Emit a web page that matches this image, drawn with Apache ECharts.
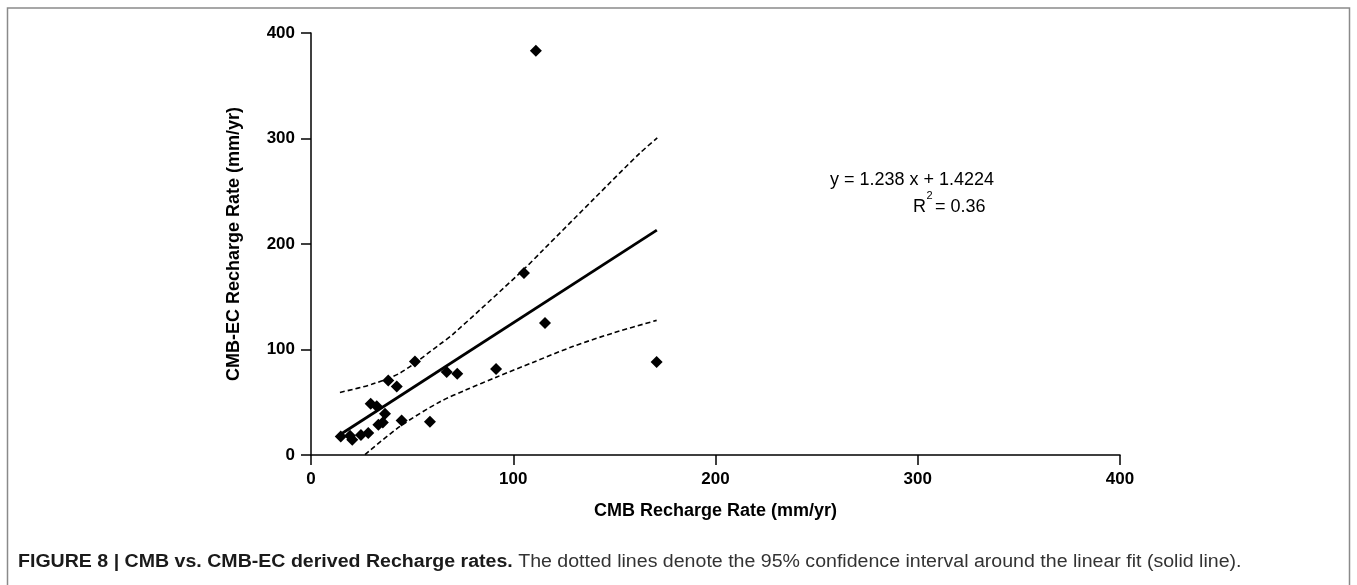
<!DOCTYPE html>
<html>
<head>
<meta charset="utf-8">
<script src="https://cdn.jsdelivr.net/npm/echarts@6/dist/echarts.min.js"></script>
<style>
html,body{margin:0;padding:0;background:#fff;}
#c{width:1357px;height:585px;}
</style>
</head>
<body>
<div id="c"></div>
<script>
// CMB (x) vs CMB-EC (y) recharge rates, mm/yr
const cmb   = [14.7, 19.3, 20.4, 24.7, 28.3, 29.5, 32.5, 33.3, 35.5, 36.6, 38.2, 42.4, 44.8, 51.4, 58.8, 67.1, 72.3, 91.5, 105.3, 111.2, 115.7, 170.9];
const cmbEC = [17.6, 18.3, 14.5, 19.0, 20.9, 48.6, 46.1, 28.7, 30.9, 39.1, 70.7, 65.0, 32.8, 88.7, 31.6, 78.7, 77.1, 81.5, 172.5, 383.2, 125.1, 88.2];

// linear fit endpoints (solid)
const fitX = [14.5, 171];
const fitY = [19.4, 213.1];

// 95% confidence band (dotted)
const upperX = [14.3, 30, 44, 63.8, 70.4, 105, 114.9, 140, 162.7, 171.2];
const upperY = [59.3, 67, 77.7, 105, 114.8, 175.6, 194.6, 243, 286.3, 300.5];
const lowerX = [26.7, 44, 63.8, 77, 91.9, 110, 129.7, 150, 170.9];
const lowerY = [0.3, 27.1, 50.5, 62, 74, 88, 103, 116, 127.6];

const ticks = [0, 100, 200, 300, 400];

const zip = (a, b) => a.map((v, i) => [v, b[i]]);
const FONT = 'Liberation Sans, Arial, sans-serif';

const chart = echarts.init(document.getElementById('c'));
const axisCommon = {
  type: 'value',
  min: ticks[0],
  max: ticks[ticks.length - 1],
  interval: 100,
  splitLine: {show: false},
  axisLine: {show: true, onZero: false, lineStyle: {color: '#000', width: 1.5}},
  axisTick: {show: true, inside: false, length: 10, lineStyle: {color: '#000', width: 1.5}},
  axisLabel: {color: '#000', fontWeight: 'bold', fontSize: 17, fontFamily: FONT},
  nameLocation: 'middle',
  nameTextStyle: {color: '#000', fontWeight: 'bold', fontSize: 18, fontFamily: FONT}
};

chart.setOption({
  animation: false,
  backgroundColor: '#fff',
  grid: {left: 311, right: 237, top: 33, bottom: 130, containLabel: false},
  xAxis: Object.assign({}, axisCommon, {
    name: 'CMB Recharge Rate (mm/yr)',
    nameGap: 47,
    axisLabel: Object.assign({}, axisCommon.axisLabel, {margin: 16})
  }),
  yAxis: Object.assign({}, axisCommon, {
    name: 'CMB-EC Recharge Rate (mm/yr)',
    nameGap: 68,
    axisLabel: Object.assign({}, axisCommon.axisLabel, {margin: 16})
  }),
  series: [
    {
      type: 'line', data: zip(upperX, upperY), smooth: 0.3, symbol: 'none',
      lineStyle: {color: '#000', width: 1.6, type: [5, 3]}, z: 2
    },
    {
      type: 'line', data: zip(lowerX, lowerY), smooth: 0.3, symbol: 'none',
      lineStyle: {color: '#000', width: 1.6, type: [5, 3]}, z: 2
    },
    {
      type: 'line', data: zip(fitX, fitY), symbol: 'none',
      lineStyle: {color: '#000', width: 2.8}, z: 3
    },
    {
      type: 'scatter', data: zip(cmb, cmbEC), symbol: 'diamond', symbolSize: 12,
      itemStyle: {color: '#000', opacity: 1}, z: 4
    }
  ],
  graphic: [
    {type: 'rect', shape: {x: 7.5, y: 8, width: 1342, height: 620}, style: {fill: 'none', stroke: '#8a8a8a', lineWidth: 1.5}, silent: true},
    {type: 'text', left: 830, top: 171, style: {text: 'y = 1.238 x + 1.4224', fontSize: 18, fill: '#000', fontFamily: FONT}},
    {type: 'text', left: 913, top: 198, style: {text: 'R', fontSize: 18, fill: '#000', fontFamily: FONT}},
    {type: 'text', left: 926.5, top: 190, style: {text: '2', fontSize: 11, fill: '#000', fontFamily: FONT}},
    {type: 'text', left: 935, top: 198, style: {text: '= 0.36', fontSize: 18, fill: '#000', fontFamily: FONT}},
    {type: 'text', x: 18, y: 553, scaleX: 1.087, style: {
      rich: {
        b: {fontWeight: 'bold', fontSize: 18, fill: '#1a1a1a', fontFamily: FONT},
        n: {fontSize: 18, fill: '#333', fontFamily: FONT}
      },
      text: '{b|FIGURE 8 | CMB vs. CMB-EC derived Recharge rates.}{n| The dotted lines denote the 95% confidence interval around the linear fit (solid line).}'
    }}
  ]
});
</script>
</body>
</html>
